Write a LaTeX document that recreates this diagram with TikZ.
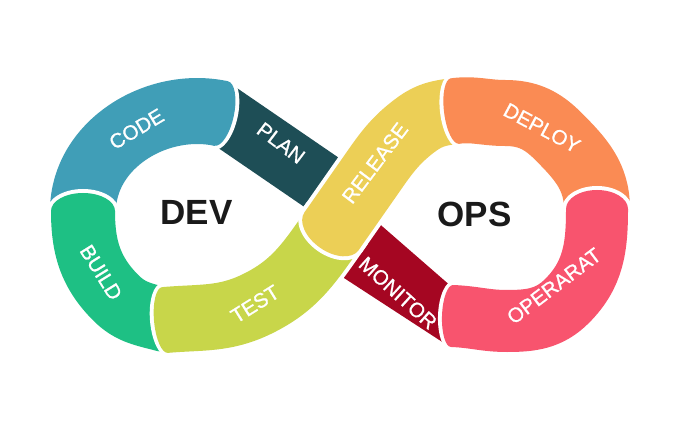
\documentclass[tikz,border=0pt]{standalone}
\usepackage{fontspec}
\setmainfont{Liberation Sans}
\newfontfamily\lblfont[FakeBold=1]{Liberation Sans}
\usetikzlibrary{calc}
\definecolor{cCode}{RGB}{64,158,183}
\definecolor{cPlan}{RGB}{30,78,86}
\definecolor{cBuild}{RGB}{30,192,132}
\definecolor{cTest}{RGB}{200,214,74}
\definecolor{cRelease}{RGB}{236,207,86}
\definecolor{cDeploy}{RGB}{250,139,84}
\definecolor{cOper}{RGB}{248,84,110}
\definecolor{cMon}{RGB}{165,6,34}
\definecolor{cText}{RGB}{26,26,26}
\newcommand\capell[5]{\begin{scope}[shift={(#2)},rotate=#3]\fill[#1] (0,0) ellipse ({#4} and {#5});\end{scope}}
\tikzset{
  lbl/.style={text=white, font=\lblfont\fontsize{20.5}{20.5}\selectfont, inner sep=0pt},
  big/.style={text=cText, font=\fontsize{35}{35}\selectfont\bfseries, inner sep=0pt},
  wline/.style={draw=white, line width=#1, line join=round},
  bline/.style={line width=#1, line join=round},
}
\begin{document}
\begin{tikzpicture}[x=1pt,y=1pt]
\fill[white] (0,0) rectangle (674,426);
\useasboundingbox (0,0) rectangle (674,426);
\coordinate (M) at (341,210);
\coordinate (C1) at (221,312.5);
\coordinate (C2) at (83,215);
\coordinate (B1) at (116,128);
\coordinate (C3) at (165,106);
\coordinate (T1) at (257,122);
\coordinate (R0) at (331.5,194.7);
\coordinate (R1) at (367.7,246.4);
\coordinate (R2) at (417,302);
\coordinate (C5) at (455,315);
\coordinate (D1) at (505,313);
\coordinate (D2) at (558,290);
\coordinate (C6) at (597,217);
\coordinate (O1) at (567,125);
\coordinate (O2) at (507,105);
\coordinate (C7) at (452,110);
\coordinate (PE) at (340,231);
\coordinate (MA) at (360.4,218.7);
\coordinate (MB) at (468,125);
\coordinate (MC) at (452,77.7);
\coordinate (MD) at (317.7,165.1);
% PLAN
\draw[wline=68pt] ($(C1)+(168:12)$) -- (C1) -- (PE);
\draw[bline=60pt,cPlan] ($(C1)+(168:12)$) -- (C1) -- (PE);
% MONITOR
\fill[cMon] (MA) -- (MB) -- (MC) -- (MD) -- cycle;
% CODE
\draw[wline=74pt] (C1) to[out=168,in=90] (C2) -- ++(-90:12);
\capell{white}{C1}{168}{17}{37}
\draw[bline=66pt,cCode] (C1) to[out=168,in=90] (C2) -- ++(-90:12);
\capell{cCode}{C1}{168}{13}{33}
% BUILD
\draw[wline=72pt] (C2) to[out=-90,in=135] (B1) to[out=-45,in=165] (C3) -- ++(5:12);
\capell{white}{C2}{-90}{22}{36}
\draw[bline=64pt,cBuild] (C2) to[out=-90,in=135] (B1) to[out=-45,in=165] (C3) -- ++(5:12);
\capell{cBuild}{C2}{-90}{18}{32}
% TEST
\draw[wline=74pt] (C3) to[out=5,in=206] (T1) to[out=26,in=235] (R0) -- ++(55:10);
\capell{white}{C3}{5}{15}{37}
\draw[bline=66pt,cTest] (C3) to[out=5,in=206] (T1) to[out=26,in=235] (R0) -- ++(55:10);
\capell{cTest}{C3}{5}{11}{33}
% RELEASE
\draw[wline=74pt] (R0) -- (R1) to[out=55,in=216] (R2) to[out=36,in=187] (C5) -- ++(7:12);
\capell{white}{R0}{55}{24}{37}
\draw[bline=66pt,cRelease] (R0) -- (R1) to[out=55,in=216] (R2) to[out=36,in=187] (C5) -- ++(7:12);
\capell{cRelease}{R0}{55}{20}{33}
% DEPLOY
\draw[wline=74pt] (C5) to[out=7,in=180] (D1) to[out=0,in=135] (D2) to[out=-45,in=90] (C6) -- ++(-90:12);
\capell{white}{C5}{7}{15}{37}
\draw[bline=66pt,cDeploy] (C5) to[out=7,in=180] (D1) to[out=0,in=135] (D2) to[out=-45,in=90] (C6) -- ++(-90:12);
\capell{cDeploy}{C5}{7}{11}{33}
% OPERARAT
\draw[wline=70pt] (C6) to[out=-90,in=45] (O1) to[out=-135,in=0] (O2) to[out=180,in=-2] (C7);
\capell{white}{C6}{-90}{23}{35}
\capell{white}{C7}{178}{14}{35}
\draw[bline=62pt,cOper] (C6) to[out=-90,in=45] (O1) to[out=-135,in=0] (O2) to[out=180,in=-2] (C7);
\capell{cOper}{C6}{-90}{19}{31}
\capell{cOper}{C7}{178}{10}{31}
% labels
\node[lbl,rotate=31] (lCode) at (136.5,297) {CODE};
\node[lbl,rotate=-37] (lPlan) at (281,283) {PLAN};
\node[lbl,rotate=-58] (lBuild) at (101,153.5) {BUILD};
\node[lbl,rotate=32] (lTest) at (255,122) {TEST};
\node[lbl,rotate=53] (lRel) at (375,263) {RELEASE};
\node[lbl,rotate=-28] (lDep) at (542,298) {DEPLOY};
\node[lbl,rotate=37] (lOp) at (554,140) {OPERARAT};
\node[lbl,rotate=-42] (lMon) at (398,133) {MONITOR};
\node[big] (dev) at (196.5,213.5) {DEV};
\node[big] (ops) at (474.5,212) {OPS};
\end{tikzpicture}
\end{document}
